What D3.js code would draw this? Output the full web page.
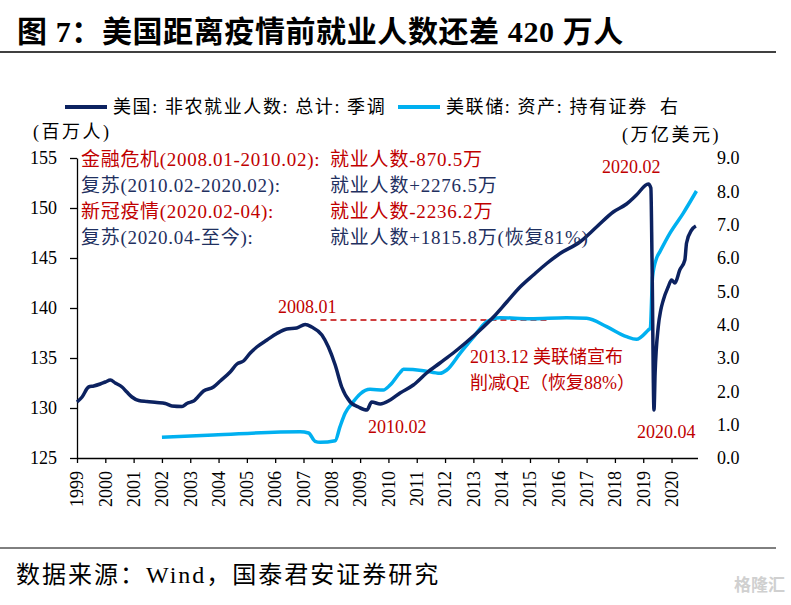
<!DOCTYPE html>
<html>
<head>
<meta charset="utf-8">
<script src="https://cdn.jsdelivr.net/npm/d3@7"></script>
<style>
body { margin: 0; background: #fff; }
text { font-family: "Liberation Serif", "Noto Sans CJK SC", serif; white-space: pre; }
</style>
</head>
<body>
<div id="chart"></div>
<script>
// 美国: 非农就业人数: 总计: 季调 (百万人), x 为图中横轴位置(年)
var payYears = [1999.0, 1999.18, 1999.41, 1999.59, 1999.82, 2000.0, 2000.18, 2000.35, 2000.59, 2000.76,
    2000.94, 2001.18, 2001.47, 2001.82, 2002.12, 2002.35, 2002.71, 2002.88, 2003.12, 2003.47,
    2003.82, 2004.06, 2004.41, 2004.65, 2004.88, 2005.12, 2005.35, 2005.71, 2006.06, 2006.41,
    2006.76, 2007.06, 2007.29, 2007.65, 2007.88, 2008.12, 2008.35, 2008.65, 2008.94, 2009.24,
    2009.41, 2009.71, 2010.06, 2010.41, 2010.88, 2011.35, 2011.82, 2012.29, 2012.76, 2013.24,
    2013.71, 2014.18, 2014.65, 2015.12, 2015.59, 2016.06, 2016.76, 2017.35, 2017.94, 2018.41,
    2018.76, 2019.18, 2019.27, 2019.31, 2019.38, 2019.42, 2019.53, 2019.62, 2019.71, 2019.88,
    2020.0, 2020.12, 2020.29, 2020.47, 2020.53, 2020.71, 2020.86];
var payValues = [130.6, 131.1, 132.1, 132.2, 132.4, 132.6, 132.8, 132.5, 132.1, 131.6,
    131.1, 130.75, 130.65, 130.55, 130.45, 130.2, 130.15, 130.45, 130.7, 131.7,
    132.1, 132.7, 133.6, 134.4, 134.7, 135.5, 136.1, 136.8, 137.45, 137.9,
    138.0, 138.35, 138.1, 137.3, 136.1, 134.3, 132.1, 130.6, 130.1, 129.8,
    130.6, 130.4, 130.8, 131.5, 132.3, 133.5, 134.5, 135.5, 136.6, 137.8,
    139.1, 140.6, 142.1, 143.3, 144.45, 145.45, 146.6, 148.1, 149.6, 150.4,
    151.3, 152.4, 152.0, 145.0, 129.8, 133.5, 138.1, 139.8, 140.8, 142.1,
    142.8, 142.5, 143.8, 144.8, 146.5, 147.8, 148.2];

// 美联储: 资产: 持有证券 (万亿美元, 右轴)
var fedYears = [2002.0, 2003.82, 2006.88, 2007.18, 2007.41, 2007.59, 2008.12, 2008.29, 2008.47, 2008.76,
    2009.0, 2009.35, 2009.82, 2010.06, 2010.41, 2010.53, 2011.24, 2011.82, 2012.06, 2012.53,
    2013.0, 2013.47, 2013.94, 2015.0, 2016.29, 2017.0, 2017.71, 2018.41, 2018.76, 2019.18,
    2019.25, 2019.33, 2019.47, 2019.59, 2019.94, 2020.41, 2020.88];
var fedValues = [0.62, 0.69, 0.79, 0.75, 0.5, 0.47, 0.52, 0.94, 1.34, 1.69,
    1.92, 2.06, 2.04, 2.19, 2.56, 2.66, 2.62, 2.54, 2.64, 3.14,
    3.62, 4.09, 4.21, 4.18, 4.21, 4.19, 3.94, 3.64, 3.56, 3.84,
    3.9, 5.44, 5.99, 6.19, 6.74, 7.34, 8.01];

var yearTicks = d3.range(1999, 2021);
var leftTicks = [125, 130, 135, 140, 145, 150, 155];
var rightTicks = [0, 1, 2, 3, 4, 5, 6, 7, 8, 9];

// 2008.01 高点水平虚线
var peakLineYears = [2007.6, 2015.6];
var peakLevel = 138.8;

var notes = [
    {left: "金融危机(2008.01-2010.02):", right: "就业人数-870.5万", red: true},
    {left: "复苏(2010.02-2020.02):", right: "就业人数+2276.5万", red: false},
    {left: "新冠疫情(2020.02-04):", right: "就业人数-2236.2万", red: true},
    {left: "复苏(2020.04-至今):", right: "就业人数+1815.8万(恢复81%)", red: false}
];

var width = 791, height = 605;
var navy = "#0c2260", sky = "#00b0f0", red = "#c00000", noteDark = "#1f3060";

var svg = d3.select("#chart").append("svg")
    .attr("width", width).attr("height", height);

// title
svg.append("text")
    .attr("x", 17).attr("y", 42)
    .attr("font-size", 30).attr("font-weight", "bold").attr("letter-spacing", 0.6)
    .text("图 7：美国距离疫情前就业人数还差 420 万人");
svg.append("line")
    .attr("x1", 0).attr("x2", 776).attr("y1", 52).attr("y2", 52)
    .attr("stroke", "#000").attr("stroke-width", 1.5);

var x = d3.scaleLinear().domain([1999, 2020.917]).range([77, 697.5]);
var yL = d3.scaleLinear().domain([125, 155]).range([458, 158]);
var yR = d3.scaleLinear().domain([0, 9]).range([458, 158]);

// axes
var gx = svg.append("g").attr("transform", "translate(0,458)")
    .call(d3.axisBottom(x).tickValues(yearTicks).tickSize(5).tickSizeOuter(0).tickFormat(""));
gx.selectAll("text").remove();
gx.selectAll("path, line").attr("stroke", "#000").attr("stroke-width", 1.3);
svg.append("g").selectAll("text").data(yearTicks).enter().append("text")
    .attr("transform", function (d) { return "translate(" + x(d) + ",471) rotate(-90)"; })
    .attr("text-anchor", "end").attr("dy", "0.35em")
    .attr("font-size", 18)
    .text(function (d) { return d; });

var gl = svg.append("g").attr("transform", "translate(77,0)")
    .call(d3.axisLeft(yL).tickValues(leftTicks).tickSize(7).tickPadding(13).tickSizeOuter(0));
gl.selectAll("path, line").attr("stroke", "#000").attr("stroke-width", 1.3);
gl.selectAll("text").attr("font-size", 18).attr("font-family", null).attr("fill", "#000");

var gr = svg.append("g").attr("transform", "translate(697,0)")
    .call(d3.axisRight(yR).tickValues(rightTicks).tickSize(0).tickPadding(20)
        .tickFormat(d3.format(".1f")));
gr.select(".domain").remove();
gr.selectAll("text").attr("font-size", 18).attr("font-family", null).attr("fill", "#000");

// unit labels
svg.append("text").attr("x", 33).attr("y", 138).attr("font-size", 18)
    .attr("letter-spacing", 2.5).text("(百万人)");
svg.append("text").attr("x", 622).attr("y", 141).attr("font-size", 18)
    .attr("letter-spacing", 2.5).text("(万亿美元)");

// legend
var legend = [
    {label: "美国: 非农就业人数: 总计: 季调", color: navy, x: 65},
    {label: "美联储: 资产: 持有证券  右", color: sky, x: 398}
];
var lg = svg.append("g").selectAll("g").data(legend).enter().append("g")
    .attr("transform", function (d) { return "translate(" + d.x + ",107)"; });
lg.append("line").attr("x1", 0).attr("x2", 42)
    .attr("stroke", function (d) { return d.color; }).attr("stroke-width", 4);
lg.append("text").attr("x", 48).attr("dy", "0.35em").attr("font-size", 18)
    .attr("letter-spacing", 1.6)
    .text(function (d) { return d.label; });

// dashed level line
svg.append("line")
    .attr("x1", x(peakLineYears[0])).attr("x2", x(peakLineYears[1]))
    .attr("y1", yL(peakLevel)).attr("y2", yL(peakLevel))
    .attr("stroke", red).attr("stroke-width", 1.5).attr("stroke-dasharray", "6,4");

// series
var fedLine = d3.line().curve(d3.curveMonotoneX)
    .x(function (d) { return x(d[0]); })
    .y(function (d) { return yR(d[1]); });
var payLine = d3.line().curve(d3.curveMonotoneX)
    .x(function (d) { return x(d[0]); })
    .y(function (d) { return yL(d[1]); });

svg.append("path").datum(d3.zip(fedYears, fedValues))
    .attr("d", fedLine).attr("fill", "none")
    .attr("stroke", sky).attr("stroke-width", 3.5).attr("stroke-linejoin", "round");
svg.append("path").datum(d3.zip(payYears, payValues))
    .attr("d", payLine).attr("fill", "none")
    .attr("stroke", navy).attr("stroke-width", 3.5).attr("stroke-linejoin", "round");

// notes block
var ng = svg.append("g").selectAll("g").data(notes).enter().append("g")
    .attr("transform", function (d, i) { return "translate(0," + (166 + i * 26) + ")"; })
    .attr("fill", function (d) { return d.red ? red : noteDark; });
ng.append("text").attr("x", 81).attr("font-size", 19).attr("letter-spacing", 0.7)
    .text(function (d) { return d.left; });
ng.append("text").attr("x", 330).attr("font-size", 19).attr("letter-spacing", 0.8)
    .text(function (d) { return d.right; });

// point labels
var labels = [
    {t: "2008.01", x: 278, y: 313},
    {t: "2010.02", x: 368, y: 433},
    {t: "2020.02", x: 602, y: 173},
    {t: "2020.04", x: 637, y: 438},
    {t: "2013.12 美联储宣布", x: 470, y: 363},
    {t: "削减QE（恢复88%）", x: 470, y: 389}
];
svg.append("g").selectAll("text").data(labels).enter().append("text")
    .attr("x", function (d) { return d.x; }).attr("y", function (d) { return d.y; })
    .attr("font-size", 18).attr("fill", red)
    .text(function (d) { return d.t; });

// footer
svg.append("line")
    .attr("x1", 0).attr("x2", 776).attr("y1", 548).attr("y2", 548)
    .attr("stroke", "#000").attr("stroke-width", 1);
svg.append("text").attr("x", 16).attr("y", 583).attr("font-size", 24)
    .attr("letter-spacing", 2)
    .text("数据来源：Wind，国泰君安证券研究");
svg.append("text").attr("x", 785).attr("y", 591).attr("text-anchor", "end")
    .attr("font-size", 17).attr("fill", "#d0d0d0").attr("font-weight", "bold")
    .text("格隆汇");
</script>
</body>
</html>
